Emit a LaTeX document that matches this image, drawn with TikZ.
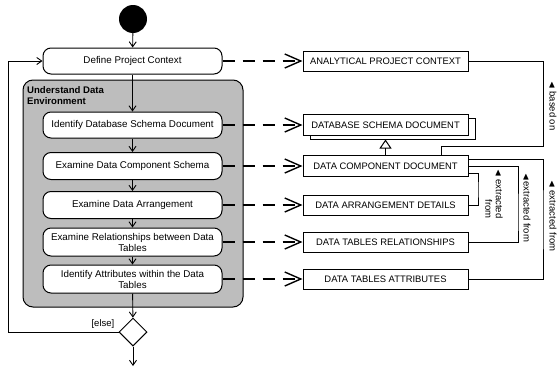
\documentclass[tikz,border=0pt]{standalone}
\usepackage{amssymb}
\usepackage{fontspec}
\setmainfont{Liberation Sans}
\usepackage{tikz}
\usetikzlibrary{arrows.meta,positioning,shapes.geometric,fit,backgrounds}
\definecolor{envgray}{HTML}{BDBDBD}

\begin{document}
\begin{tikzpicture}[x=1pt,y=-1pt,font=\fontsize{9.8}{11}\selectfont,
  act/.style={draw,rounded corners=8pt,fill=white,minimum width=179pt,minimum height=26pt,align=center,inner sep=1pt,line width=1pt},
  obj/.style={draw,fill=white,minimum width=165pt,minimum height=20pt,inner sep=1pt,font=\fontsize{9.4}{11}\selectfont,line width=1pt},
  ctrl/.style={-{Straight Barb[length=5pt,width=7pt]},line width=0.9pt},
  oflow/.style={-{Straight Barb[length=16pt,width=14pt]},dash pattern=on 12pt off 8pt,line width=1.4pt},
  assoc/.style={line width=1pt},
  lbl/.style={rotate=-90,font=\fontsize{9.5}{10.5}\selectfont,inner sep=0pt}]
\useasboundingbox (0,0) rectangle (560,367);

% activities
\node[circle,fill=black,minimum size=28pt,inner sep=0pt] (start) at (133,19) {};
\node[act] (def) at (132.5,61) {Define Project Context};
\node[act] (ids) at (132.5,125) {Identify Database Schema Document};
\node[act,minimum height=27pt] (edc) at (132.5,166) {Examine Data Component Schema};
\node[act,minimum height=27pt] (eda) at (132.5,205) {Examine Data Arrangement};
\node[act,minimum height=28pt] (erd) at (132.5,242) {Examine Relationships between Data\\Tables};
\node[act,minimum height=28pt] (iad) at (132.5,279) {Identify Attributes within the Data\\Tables};
\node[draw,diamond,fill=white,minimum width=28pt,minimum height=28pt,inner sep=0pt,line width=1pt] (dec) at (133,332) {};
\coordinate (out) at (133,366);
\coordinate (back) at (8,332);

\begin{scope}[on background layer]
  \node[draw,fill=envgray,rounded corners=10pt,line width=1pt,inner sep=0pt,fit={(23,80) (243,307)}] (env) {};
\end{scope}
\node[anchor=north west,align=left,font=\bfseries\fontsize{9.6}{11}\selectfont,inner sep=0pt] (envlbl) at (27,86) {Understand Data\\Environment};

% objects
\node[obj] (apc) at (385.5,61) {ANALYTICAL PROJECT CONTEXT};
\node[obj,minimum height=21pt] (dsdb) at (392.5,128.5) {};
\node[obj,minimum height=21pt] (dsd) at (385.5,125) {DATABASE SCHEMA DOCUMENT};
\node[obj,minimum height=21pt] (dcd) at (385.5,166) {DATA COMPONENT DOCUMENT};
\node[obj] (dad) at (385.5,205) {DATA ARRANGEMENT DETAILS};
\node[obj] (dtr) at (385.5,242) {DATA TABLES RELATIONSHIPS};
\node[obj] (dta) at (385.5,279) {DATA TABLES ATTRIBUTES};

% control flow
\draw[ctrl] (start) -- (def);
\foreach \a/\b in {def/ids,ids/edc,edc/eda,eda/erd,erd/iad,iad/dec}
  \draw[ctrl] (\a) -- (\b);
\draw[ctrl] (dec) -- (out);
\draw[ctrl] (dec.west) -- (back) |- (def.west);
\node[anchor=south east,inner sep=1pt,font=\fontsize{9.5}{10.5}\selectfont] (else) at ([xshift=-3pt,yshift=2pt]dec.west) {[else]};

% object flow
\foreach \a/\b in {def/apc,ids/dsd,edc/dcd,eda/dad,erd/dtr,iad/dta}
  \draw[oflow] (\a) -- (\b);

% associations
\draw[assoc,-{Triangle[open,length=9pt,width=12pt]}] (dcd.north) -- (dcd.north |- dsdb.south);
\coordinate (bturn) at (543,146);
\draw[assoc] (apc.east) -| (bturn) -| ([xshift=55.5pt]dcd.north);
\coordinate (xa) at (543,220);
\coordinate (xb) at (518,220);
\coordinate (xc) at (478,190);
\draw[assoc] ([yshift=7pt]dcd.east) -| (xa) |- (dta.east);
\draw[assoc] (dcd.east) -| (xb) |- (dtr.east);
\draw[assoc] ([yshift=-7pt]dcd.east) -| (xc) |- (dad.east);

\node[lbl] (lbased) at (553,106) {$\blacktriangleleft$ based on};
\node[lbl] (lxa) at (553,216) {$\blacktriangleleft$ extracted from};
\node[lbl] (lxb) at (527,208) {$\blacktriangleleft$extracted from};
\node[lbl,align=right] (lxc) at (494,194) {$\blacktriangleleft$ extracted\\from};
\end{tikzpicture}
\end{document}
